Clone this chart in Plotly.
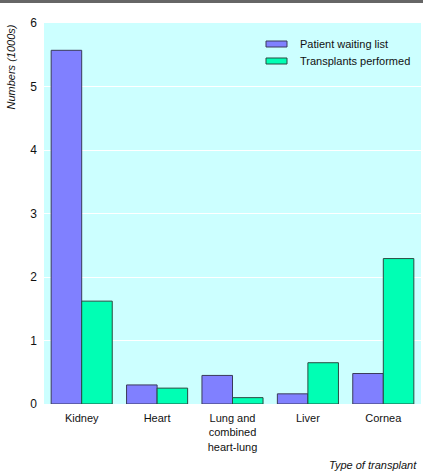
import plotly.graph_objects as go

categories = ["Kidney", "Heart", "Lung and<br>combined<br>heart-lung", "Liver", "Cornea"]
waiting_list = [5.57, 0.30, 0.45, 0.16, 0.48]
transplants = [1.62, 0.25, 0.10, 0.65, 2.29]
series_names = ["Patient waiting list", "Transplants performed"]
y_ticks = [0, 1, 2, 3, 4, 5, 6]

FONT = "Liberation Sans, Arial, sans-serif"
FS = 11
COLORS = ["#8080FF", "#00FFB4"]
EDGES = ["#3a3a5a", "#2a4a40"]

fig = go.Figure()
for name, vals, c, e in zip(series_names, [waiting_list, transplants], COLORS, EDGES):
    fig.add_bar(x=categories, y=vals, name=name,
                marker=dict(color=c, line=dict(color=e, width=1)))

W, H = 426, 474
L, R, T, B = 44, 5, 23, 70
pw, ph = W - L - R, H - T - B

def px_x(x):
    return (x - L) / pw

def px_y(y):
    return (H - B - y) / ph

shapes = [dict(type="rect", xref="paper", yref="paper",
               x0=px_x(0), x1=px_x(423), y0=px_y(3), y1=px_y(0),
               fillcolor="#666666", line=dict(width=0), layer="above")]
annotations = [
    dict(text="<i>Numbers (1000s)</i>", textangle=-90, xref="paper", yref="paper",
         x=px_x(10), y=1, xanchor="center", yanchor="top", showarrow=False),
    dict(text="<i>Type of transplant</i>", xref="paper", yref="paper",
         x=px_x(419), y=px_y(465), xanchor="right", yanchor="middle",
         showarrow=False),
]
# legend drawn as swatches + labels
for i, (name, c, e) in enumerate(zip(series_names, COLORS, EDGES)):
    cy = 44 + 17 * i
    shapes.append(dict(type="rect", xref="paper", yref="paper",
                       x0=px_x(266), x1=px_x(287), y0=px_y(cy + 3), y1=px_y(cy - 3),
                       fillcolor=c, line=dict(color=e, width=1)))
    annotations.append(dict(text=name, xref="paper", yref="paper",
                            x=px_x(298), y=px_y(cy), xanchor="left", yanchor="middle",
                            showarrow=False))

fig.update_layout(
    width=W, height=H,
    margin=dict(l=L, r=R, t=T, b=B),
    paper_bgcolor="white",
    plot_bgcolor="#CCFFFF",
    barmode="group",
    bargap=0.19,
    bargroupgap=0,
    font=dict(family=FONT, size=FS, color="#111"),
    showlegend=False,
    xaxis=dict(showgrid=False, showline=False, ticks="", ticklen=0,
               ticklabelstandoff=6),
    yaxis=dict(range=[0, 6], tickvals=y_ticks, showgrid=True,
               gridcolor="white", gridwidth=1, zeroline=False,
               showline=False, ticks="", ticklabelstandoff=6,
               tickfont=dict(size=12)),
    shapes=shapes,
    annotations=annotations,
)

fig.write_html("out.html", config={"displayModeBar": False},
               post_script="document.body.style.margin='0';")
